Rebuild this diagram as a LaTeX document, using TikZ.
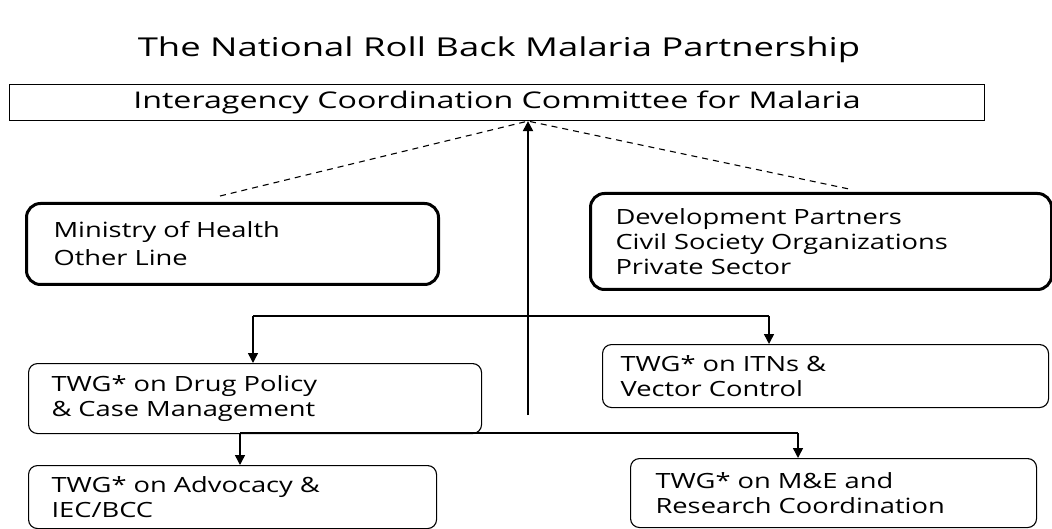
\documentclass[tikz,border=0pt]{standalone}
\usepackage{fontspec}
\setmainfont[FakeStretch=1.3]{Open Sans}
\newfontfamily\headfont[FakeStretch=1.4]{Open Sans}
\usetikzlibrary{arrows.meta}
\tikzset{
  box/.style={draw, line width=1.1pt, rounded corners=9pt, anchor=north west,
    align=left, inner ysep=0pt, font=\fontsize{21}{25}\selectfont},
  bigbox/.style={box, line width=3pt, rounded corners=14pt},
  arr/.style={-{Triangle[length=10pt,width=10pt]}, line width=1.5pt},
  link/.style={line width=1.1pt}
}
\begin{document}
\begin{tikzpicture}[x=1pt,y=-1pt]
  \useasboundingbox (0,0) rectangle (1052,529);
  \node[anchor=base,font=\headfont\fontsize{26}{30}\selectfont] (title) at (499,57) {The National Roll Back Malaria Partnership};
  \node[draw,line width=1.1pt,anchor=north west,minimum width=975pt,minimum height=36pt,inner sep=0pt,
    font=\headfont\fontsize{23}{27}\selectfont] (icc) at (9,84) {Interagency Coordination Committee for Malaria};
  % partners
  \node[bigbox,minimum height=81pt,inner xsep=27pt,text width=358pt,font=\fontsize{21}{28}\selectfont] (moh) at (25,202)
    {Ministry of Health\\Other Line};
  \node[bigbox,minimum height=96pt,inner xsep=25pt,text width=411pt] (dev) at (589,192)
    {Development Partners\\Civil Society Organizations\\Private Sector};
  % working groups
  \node[box,minimum height=70pt,inner xsep=23pt,text width=407pt] (drug) at (28,363)
    {TWG* on Drug Policy\\\& Case Management};
  \node[box,minimum height=63pt,inner xsep=18pt,text width=410pt] (itn) at (602,344)
    {TWG* on ITNs \&\\Vector Control};
  \node[box,minimum height=63pt,inner xsep=23pt,text width=362pt] (adv) at (28,465)
    {TWG* on Advocacy \&\\IEC/BCC};
  \node[box,minimum height=69pt,inner xsep=25pt,text width=356pt] (mne) at (630,458)
    {TWG* on M\&E and\\Research Coordination};
  % trunk up to the committee
  \coordinate (trunk) at (528,415);
  \coordinate (top) at (trunk |- icc.south);
  \draw[arr,line width=2pt] (trunk) -- (top);
  \draw[link,dashed,dash pattern=on 6pt off 5pt] (220,196) -- (top) -- (849,189);
  % first row of groups
  \coordinate (a1) at (253,316);
  \coordinate (a2) at (769,316);
  \draw[link] (a1) -- (a2);
  \draw[arr] (a1) -- (a1 |- drug.north);
  \draw[arr] (a2) -- (a2 |- itn.north);
  % second row of groups
  \coordinate (b1) at (240,433);
  \coordinate (b2) at (798,433);
  \draw[link] (b1) -- (b2);
  \draw[arr] (b1) -- (b1 |- adv.north);
  \draw[arr] (b2) -- (b2 |- mne.north);
\end{tikzpicture}
\end{document}
